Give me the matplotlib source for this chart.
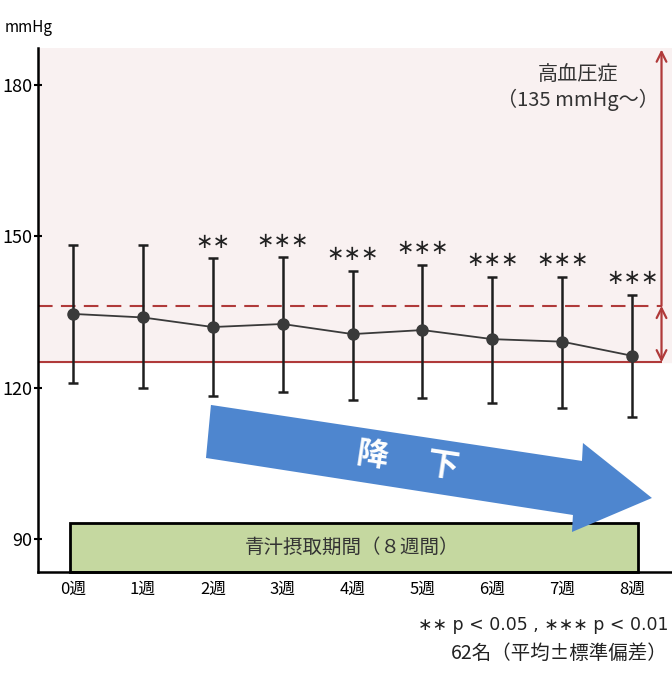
import numpy as np
import matplotlib.pyplot as plt
from matplotlib.patches import Polygon, Rectangle

plt.rcParams['font.family'] = ['Noto Sans CJK JP', 'DejaVu Sans']

weeks = ['0週', '1週', '2週', '3週', '4週', '5週', '6週', '7週', '8週']
bp_mean = [134.6, 133.9, 132.0, 132.6, 130.6, 131.4, 129.6, 129.1, 126.3]
bp_upper = [148.3, 148.3, 145.6, 145.8, 143.2, 144.3, 142.0, 142.0, 138.4]
bp_lower = [120.9, 119.9, 118.4, 119.2, 117.6, 118.0, 117.0, 115.9, 114.2]
signif = ['', '', '∗∗', '∗∗∗', '∗∗∗', '∗∗∗', '∗∗∗', '∗∗∗', '∗∗∗']
yticks = [90, 120, 150, 180]
high_bp = 136.2   # dashed line
normal_bp = 125.0  # solid line

red = '#B03A3A'
narrow = ['Liberation Sans Narrow', 'Noto Sans CJK JP']

fig = plt.figure(figsize=(6.72, 6.73), dpi=100)
ax = fig.add_axes([38 / 672, 1 - 572 / 673, 1 - 38 / 672, (572 - 48) / 673])
ax.set_xlim(-0.5, 8.57)
ax.set_ylim(83.45, 187.3)

x = np.arange(len(weeks))
mean = np.array(bp_mean)
yerr = [mean - np.array(bp_lower), np.array(bp_upper) - mean]

# pink zone above normal line
ax.axhspan(normal_bp, 187.3, color='#F9F1F1', zorder=0)
arrow_x = 8.42
ax.hlines(normal_bp, -0.5, arrow_x, color=red, lw=1.5, zorder=1)
ax.hlines(high_bp, -0.5, arrow_x, color=red, lw=1.5, linestyles=(0, (7, 4)), zorder=1)
ax.annotate('', xy=(arrow_x, 187.0), xytext=(arrow_x, high_bp),
            arrowprops=dict(arrowstyle='->,head_length=0.7,head_width=0.35', color=red, lw=1.6,
                            shrinkA=0, shrinkB=0))
ax.annotate('', xy=(arrow_x, normal_bp), xytext=(arrow_x, high_bp),
            arrowprops=dict(arrowstyle='<->,head_length=0.7,head_width=0.35', color=red, lw=1.6,
                            shrinkA=0, shrinkB=0))
ax.text(7.22, 179.5, '高血圧症\n（135 mmHg～）', ha='center', va='center', fontsize=14.5,
        color='#333333', linespacing=1.25)

# intake period box
ax.add_patch(Rectangle((-0.04, 83.45), 8.12, 9.8, facecolor='#C5D8A0', edgecolor='black',
                       lw=2, zorder=2, clip_on=False))
ax.text(3.99, 88.3, '青汁摂取期間（８週間）', ha='center', va='center', fontsize=14,
        color='#333333', zorder=3)

# blue trend arrow (drawn over the box)
arrow_pts = [(1.974, 116.56), (7.282, 105.46), (7.296, 109.02), (8.283, 98.12),
             (7.139, 91.38), (7.153, 94.75), (1.903, 106.05)]
ax.add_patch(Polygon(arrow_pts, closed=True, facecolor='#4E86CF', edgecolor='none', zorder=4))
ax.text(4.79, 105.5, '降　 下', color='white', fontsize=23, fontweight='bold',
        rotation=-8.6, rotation_mode='anchor', ha='center', va='center', zorder=5)

ax.errorbar(x, mean, yerr=yerr, fmt='o-', color='#3A3A3A', ms=8, lw=1.3,
            ecolor='#1E1E1E', elinewidth=1.8, capsize=3.5, capthick=1.8, zorder=6)
for xi, top, s in zip(x, bp_upper, signif):
    ax.text(xi, top + 3.3, s, ha='center', va='center', fontsize=15, color='#222222',
            family=['DejaVu Sans'])

ax.set_xticks(x)
ax.set_xticklabels(weeks, family=narrow, fontsize=12)
ax.set_yticks(yticks)
ax.set_yticklabels([str(v) for v in yticks], family=narrow, fontsize=13)
ax.tick_params(axis='x', length=0, pad=6)
ax.tick_params(axis='y', direction='inout', length=6, width=1.5, pad=1)
for side in ['top', 'right']:
    ax.spines[side].set_visible(False)
for side in ['left', 'bottom']:
    ax.spines[side].set_linewidth(1.8)

fig.text(5 / 672, 1 - 28 / 673, 'mmHg', family=narrow, fontsize=11, va='center')
fig.text(668 / 672, 1 - 625 / 673, '∗∗ p < 0.05 , ∗∗∗ p < 0.01', ha='right', va='center',
         fontsize=12.5, color='#222222', family=['DejaVu Sans'])
fig.text(668 / 672, 1 - 653 / 673, '62名（平均±標準偏差）', ha='right', va='center',
         fontsize=14, color='#222222')

fig.savefig('out.png', dpi=100)
